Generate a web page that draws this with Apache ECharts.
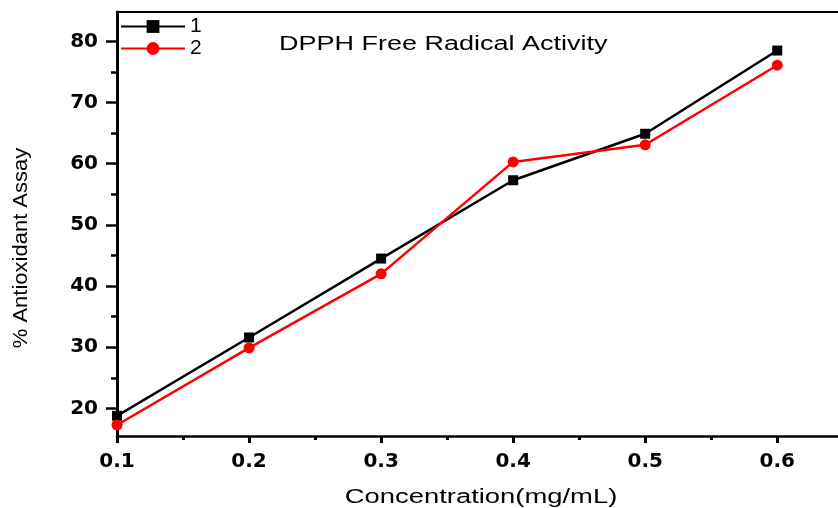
<!DOCTYPE html>
<html>
<head>
<meta charset="utf-8">
<script src="https://cdn.jsdelivr.net/npm/echarts@6/dist/echarts.min.js"></script>
<style>html,body{margin:0;padding:0;background:#fff;}#c{width:838px;height:508px;}</style>
</head>
<body>
<div id="c"></div>
<script>
const concentrations = [0.1, 0.2, 0.3, 0.4, 0.5, 0.6];
const series1 = [18.8, 31.6, 44.5, 57.3, 64.9, 78.5];
const series2 = [17.3, 29.9, 42.0, 60.3, 63.1, 76.1];
const seriesNames = ['1', '2'];
const xMajorTicks = [0.1, 0.2, 0.3, 0.4, 0.5, 0.6];
const xMinorTicks = [0.15, 0.25, 0.35, 0.45, 0.55];
const yMajorTicks = [20, 30, 40, 50, 60, 70, 80];
const yMinorTicks = [25, 35, 45, 55, 65, 75];
const titleText = 'DPPH Free Radical Activity';
const xName = 'Concentration(mg/mL)';
const yName = '% Antioxidant Assay';

const chart = echarts.init(document.getElementById('c'), null, {renderer: 'canvas'});
const XMIN = 0.1, XMAX = 0.646, YMIN = 15.5, YMAX = 84.8;
const labelFont = {fontFamily: 'DejaVu Sans', fontWeight: 'bold', fontSize: 20, color: '#000'};

const option = {
  backgroundColor: '#fff',
  animation: false,
  grid: {left: 117, top: 12, right: 0, bottom: 72, containLabel: false},
  legend: {
    data: seriesNames,
    orient: 'vertical',
    left: 120, top: 16,
    itemWidth: 64, itemHeight: 16, itemGap: 1,
    padding: 0,
    textStyle: {fontFamily: 'Liberation Sans', fontSize: 21, color: '#000', lineHeight: 16, height: 16, padding: [0, 0, 0, 0]}
  },
  xAxis: [
    {
      type: 'value', min: XMIN, max: XMAX, position: 'bottom',
      axisLine: {show: true, onZero: false, lineStyle: {color: '#000', width: 2.5}},
      axisTick: {show: true, inside: false, length: 7, lineStyle: {color: '#000', width: 3}, customValues: xMajorTicks},
      axisLabel: Object.assign({show: true, margin: 16, customValues: xMajorTicks, formatter: v => Number(v).toFixed(1)}, labelFont),
      splitLine: {show: false}
    },
    {
      type: 'value', min: XMIN, max: XMAX, position: 'bottom',
      axisLine: {show: false, onZero: false},
      axisTick: {show: true, inside: false, length: 4, lineStyle: {color: '#000', width: 3}, customValues: xMinorTicks},
      axisLabel: {show: false},
      splitLine: {show: false}
    },
    {
      type: 'value', min: XMIN, max: XMAX, position: 'top',
      axisLine: {show: true, onZero: false, lineStyle: {color: '#000', width: 2}},
      axisTick: {show: false}, axisLabel: {show: false}, splitLine: {show: false}
    }
  ],
  yAxis: [
    {
      type: 'value', min: YMIN, max: YMAX, position: 'left',
      axisLine: {show: true, onZero: false, lineStyle: {color: '#000', width: 3}},
      axisTick: {show: true, inside: false, length: 11, lineStyle: {color: '#000', width: 2.5}, customValues: yMajorTicks},
      axisLabel: Object.assign({show: true, margin: 19, customValues: yMajorTicks}, labelFont),
      splitLine: {show: false}
    },
    {
      type: 'value', min: YMIN, max: YMAX, position: 'left',
      axisLine: {show: false, onZero: false},
      axisTick: {show: true, inside: false, length: 6, lineStyle: {color: '#000', width: 2.5}, customValues: yMinorTicks},
      axisLabel: {show: false},
      splitLine: {show: false}
    }
  ],
  series: [
    {
      name: seriesNames[0], type: 'line', xAxisIndex: 0, yAxisIndex: 0,
      data: concentrations.map((c, i) => [c, series1[i]]),
      symbol: 'rect', symbolSize: 10,
      lineStyle: {color: '#000', width: 2.5},
      itemStyle: {color: '#000'},
      z: 3
    },
    {
      name: seriesNames[1], type: 'line', xAxisIndex: 0, yAxisIndex: 0,
      data: concentrations.map((c, i) => [c, series2[i]]),
      symbol: 'circle', symbolSize: 11,
      lineStyle: {color: '#f00', width: 2.5},
      itemStyle: {color: '#f00'},
      z: 4
    }
  ],
  graphic: [
    {
      type: 'text', x: 279, y: 44, scaleX: 1.35, scaleY: 1,
      style: {text: titleText, x: 0, y: 0, font: '20px "Liberation Sans"', fill: '#000', textAlign: 'left', textVerticalAlign: 'middle'}
    },
    {
      type: 'text', x: 481, y: 497, scaleX: 1.37, scaleY: 1,
      style: {text: xName, x: 0, y: 0, font: '20px "Liberation Sans"', fill: '#000', textAlign: 'center', textVerticalAlign: 'middle'}
    },
    {
      type: 'text', x: 21, y: 248, rotation: Math.PI / 2, scaleX: 1.1, scaleY: 1,
      style: {text: yName, x: 0, y: 0, font: '20px "Liberation Sans"', fill: '#000', textAlign: 'center', textVerticalAlign: 'middle'}
    }
  ]
};
chart.setOption(option);
</script>
</body>
</html>
